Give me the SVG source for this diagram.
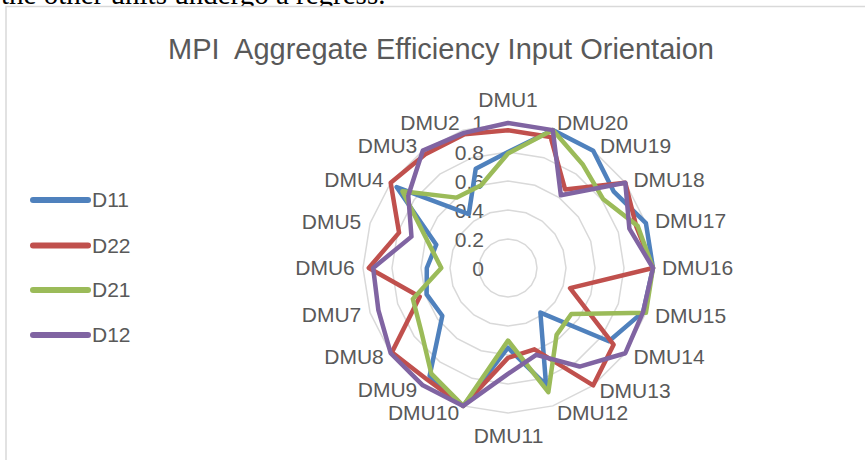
<svg xmlns="http://www.w3.org/2000/svg" width="865" height="460" viewBox="0 0 865 460">
<style>
  .t{font-family:"Liberation Sans",Arial,sans-serif;fill:#595959}
  .cat{font-size:21px;text-anchor:middle}
  .ax{font-size:21px;text-anchor:end}
  .leg{font-size:21px}
  .grid{fill:none;stroke:#D9D9D9;stroke-width:1.5}
  .s{fill:none;stroke-width:4.5;stroke-linejoin:round;stroke-linecap:round}
  .lg{stroke-width:6;stroke-linecap:round}
</style>
<rect x="0" y="0" width="865" height="460" fill="#fff"/>
<text x="1" y="4" font-family="'Liberation Serif','Times New Roman',serif" font-size="29" fill="#000">the other units undergo a regress.</text>
<rect x="6" y="6.5" width="880" height="470" fill="#fff" stroke="#D9D9D9" stroke-width="1.5"/>
<text class="t" x="441" y="59" font-size="29" text-anchor="middle" style="white-space:pre">MPI  Aggregate Efficiency Input Orientaion</text>
<g id="grid">
<polygon class="grid" points="508,123 463.19,130.1 422.77,150.69 390.69,182.77 370.1,223.19 363,268 370.1,312.81 390.69,353.23 422.77,385.31 463.19,405.9 508,413 552.81,405.9 593.23,385.31 625.31,353.23 645.9,312.81 653,268 645.9,223.19 625.31,182.77 593.23,150.69 552.81,130.1"/>
<polygon class="grid" points="508,152 472.15,157.68 439.82,174.15 414.15,199.82 397.68,232.15 392,268 397.68,303.85 414.15,336.18 439.82,361.85 472.15,378.32 508,384 543.85,378.32 576.18,361.85 601.85,336.18 618.32,303.85 624,268 618.32,232.15 601.85,199.82 576.18,174.15 543.85,157.68"/>
<polygon class="grid" points="508,181 481.12,185.26 456.86,197.62 437.62,216.86 425.26,241.12 421,268 425.26,294.88 437.62,319.14 456.86,338.38 481.12,350.74 508,355 534.88,350.74 559.14,338.38 578.38,319.14 590.74,294.88 595,268 590.74,241.12 578.38,216.86 559.14,197.62 534.88,185.26"/>
<polygon class="grid" points="508,210 490.08,212.84 473.91,221.08 461.08,233.91 452.84,250.08 450,268 452.84,285.92 461.08,302.09 473.91,314.92 490.08,323.16 508,326 525.92,323.16 542.09,314.92 554.92,302.09 563.16,285.92 566,268 563.16,250.08 554.92,233.91 542.09,221.08 525.92,212.84"/>
<polygon class="grid" points="508,239 499.04,240.42 490.95,244.54 484.54,250.95 480.42,259.04 479,268 480.42,276.96 484.54,285.05 490.95,291.46 499.04,295.58 508,297 516.96,295.58 525.05,291.46 531.46,285.05 535.58,276.96 537,268 535.58,259.04 531.46,250.95 525.05,244.54 516.96,240.42"/>
</g>
<g id="axis-labels" class="t ax">
<text x="484" y="130">1</text>
<text x="484" y="159.5">0.8</text>
<text x="484" y="189">0.6</text>
<text x="484" y="218">0.4</text>
<text x="484" y="247">0.2</text>
<text x="484" y="276">0</text>
</g>
<g id="categories" class="t cat">
<text x="508" y="107">DMU1</text>
<text x="430" y="130">DMU2</text>
<text x="387.5" y="153">DMU3</text>
<text x="354" y="187">DMU4</text>
<text x="331.5" y="228.5">DMU5</text>
<text x="325" y="275">DMU6</text>
<text x="331.5" y="322">DMU7</text>
<text x="354" y="363.5">DMU8</text>
<text x="387.5" y="397">DMU9</text>
<text x="423.5" y="419.5">DMU10</text>
<text x="508.5" y="443">DMU11</text>
<text x="592.5" y="419.5">DMU12</text>
<text x="635" y="398">DMU13</text>
<text x="669" y="364">DMU14</text>
<text x="690.5" y="323">DMU15</text>
<text x="697.5" y="275">DMU16</text>
<text x="690.5" y="228">DMU17</text>
<text x="669" y="187">DMU18</text>
<text x="635.5" y="153">DMU19</text>
<text x="592.5" y="130">DMU20</text>
</g>
<g id="connectors">
<polygon id="D11" class="s" stroke="#4F81BD" points="508,152 475.74,168.71 468.79,214.04 396.56,187.03 436.29,244.7 426.8,268 426.64,294.44 442.31,315.73 429.59,375.92 463.19,405.9 508,347.75 546.09,385.22 540.39,312.58 608.88,341.3 643.15,311.91 653,268 645.9,223.19 613.58,191.29 593.23,150.69 552.81,130.1"/>
<polygon id="D22" class="s" stroke="#C0504D" points="508,130.25 464.54,134.23 425.33,154.21 390.69,182.77 399.06,232.6 368.8,268 419.74,296.68 391.87,352.38 427.03,379.44 463.19,405.9 508,357.9 534.44,349.36 593.23,385.31 613.58,344.71 570.06,288.16 653,268 636.25,226.33 625.31,182.77 565.1,189.4 550.57,136.99"/>
<polygon id="D21" class="s" stroke="#9BBB59" points="508,153.45 481.12,185.26 456.86,197.62 402.42,191.29 428.02,242.01 441.3,268 412.85,298.92 421.19,331.07 431.29,373.58 463.19,405.9 508,340.5 548.33,392.11 556.58,334.87 571.35,314.02 645.9,312.81 653,268 637.63,225.88 603.02,198.96 583,164.77 552.81,130.1"/>
<polygon id="D12" class="s" stroke="#8064A2" points="508,123 464.09,132.85 422.77,150.69 408.29,195.56 411.47,236.63 373.15,268 378.37,310.12 390.69,353.23 422.77,385.31 463.19,405.9 508,373.85 536.23,354.88 579.59,366.54 625.31,353.23 643.15,311.91 653,268 629.36,228.57 625.31,182.77 560.84,195.27 552.81,130.1"/>
</g>
<g id="legend">
<g id="leg-D11"><line class="lg" x1="33" y1="200" x2="88" y2="200" stroke="#4F81BD"/><text class="t leg" x="92" y="207">D11</text></g>
<g id="leg-D22"><line class="lg" x1="33" y1="245.5" x2="88" y2="245.5" stroke="#C0504D"/><text class="t leg" x="92" y="252.5">D22</text></g>
<g id="leg-D21"><line class="lg" x1="33" y1="290" x2="88" y2="290" stroke="#9BBB59"/><text class="t leg" x="92" y="297">D21</text></g>
<g id="leg-D12"><line class="lg" x1="33" y1="335" x2="88" y2="335" stroke="#8064A2"/><text class="t leg" x="92" y="342">D12</text></g>
</g>
</svg>
